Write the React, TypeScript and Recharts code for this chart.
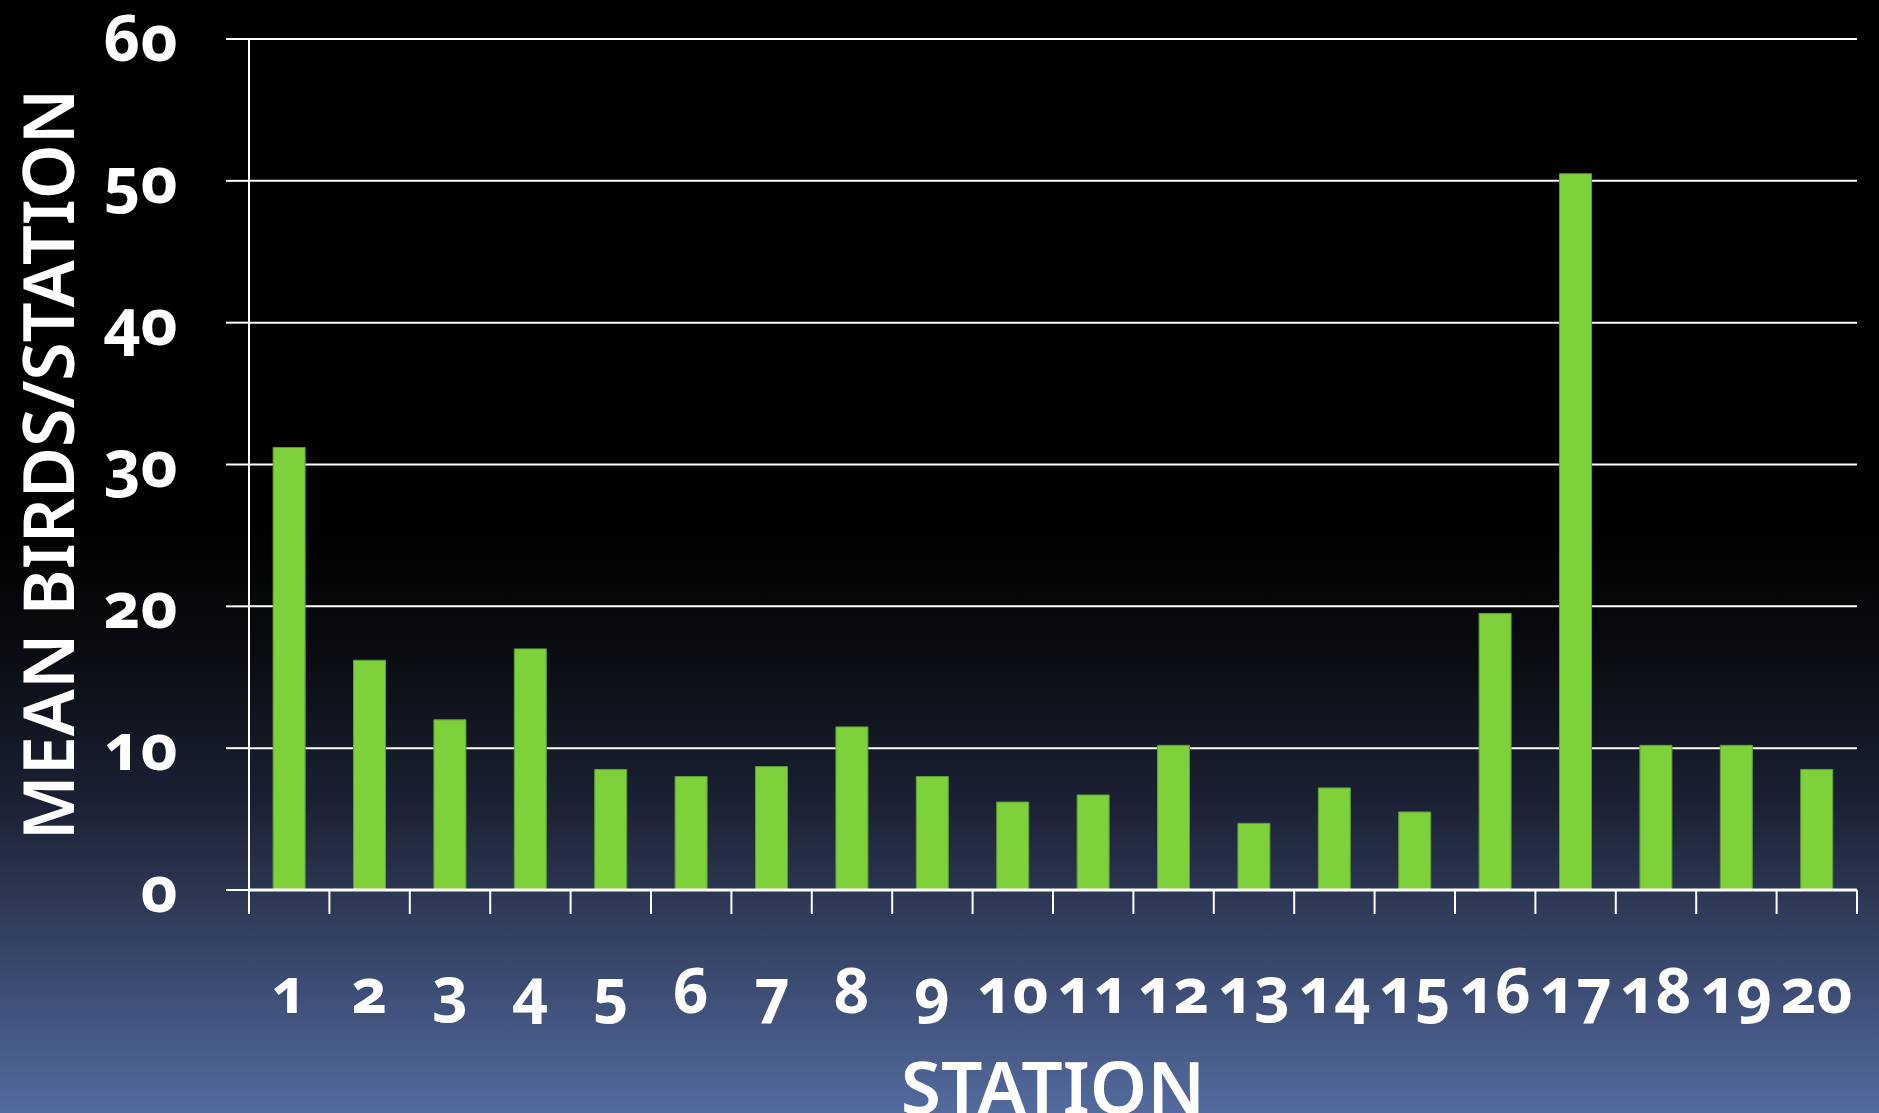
import React from "react";
import { BarChart, Bar, XAxis, YAxis, CartesianGrid, Label } from "recharts";

const stations = ["1", "2", "3", "4", "5", "6", "7", "8", "9", "10", "11", "12", "13", "14", "15", "16", "17", "18", "19", "20"];
const meanBirds = [31.2, 16.2, 12.0, 17.0, 8.5, 8.0, 8.7, 11.5, 8.0, 6.2, 6.7, 10.2, 4.7, 7.2, 5.5, 19.5, 50.5, 10.2, 10.2, 8.5];
const yTicks = [0, 10, 20, 30, 40, 50, 60];

const data = stations.map((s, i) => ({ station: s, mean: meanBirds[i] }));

const W = 1879;
const H = 1113;
const margin = { top: 39, right: 22, left: 0, bottom: 0 };
const Y_AXIS_W = 249;
const BAND = (W - Y_AXIS_W - margin.right) / stations.length;
const TICK_LEN = 24;
const FONT = "'Noto Sans', 'Open Sans', sans-serif";

function StationTick(props: any) {
  const { x, y, payload, index } = props;
  const left = x - BAND / 2;
  const right = x + BAND / 2;
  return (
    <g>
      <line x1={left} x2={left} y1={y - TICK_LEN} y2={y} stroke="#fff" strokeWidth={2} />
      {index === stations.length - 1 && (
        <line x1={right} x2={right} y1={y - TICK_LEN} y2={y} stroke="#fff" strokeWidth={2} />
      )}
      <text
        x={x}
        y={y + 99}
        textAnchor="middle"
        fill="#fff"
        fontFamily={FONT}
        fontWeight={700}
        fontSize={62}
        style={{ fontVariantNumeric: "oldstyle-nums" }}
      >
        {payload.value}
      </text>
    </g>
  );
}

function CountTick(props: any) {
  const { x, y, payload } = props;
  return (
    <text
      x={x}
      y={y + 22}
      textAnchor="end"
      fill="#fff"
      fontFamily={FONT}
      fontWeight={700}
      fontSize={64}
      style={{ fontVariantNumeric: "oldstyle-nums" }}
    >
      {payload.value}
    </text>
  );
}

export default function App() {
  return (
    <div
      style={{
        position: "absolute",
        left: 0,
        top: 0,
        width: W,
        height: H,
        overflow: "hidden",
        background:
          "linear-gradient(to bottom, #000000 0%, #000000 47%, #0b0e14 60%, #1b2133 72%, #2b3651 80%, #3f5079 90%, #546b9e 100%)",
      }}
    >
      <BarChart width={W} height={H} data={data} margin={margin} barCategoryGap="30%">
        <CartesianGrid horizontal vertical={false} stroke="#fff" strokeWidth={2} />
        <XAxis
          dataKey="station"
          height={H - 890}
          axisLine={{ stroke: "#fff", strokeWidth: 3 }}
          tickLine={false}
          tickSize={TICK_LEN}
          tickMargin={0}
          interval={0}
          tick={<StationTick />}
        >
          <Label
            content={(p: any) => {
              const vb = p.viewBox;
              return (
                <text
                  x={vb.x + vb.width / 2}
                  y={1114}
                  textAnchor="middle"
                  fill="#fff"
                  fontFamily={FONT}
                  fontWeight={600}
                  fontSize={73}
                >
                  STATION
                </text>
              );
            }}
          />
        </XAxis>
        <YAxis
          width={Y_AXIS_W}
          domain={[0, 60]}
          ticks={yTicks}
          interval={0}
          axisLine={{ stroke: "#fff", strokeWidth: 2 }}
          tickLine={{ stroke: "#fff", strokeWidth: 2 }}
          tickSize={23}
          tickMargin={48}
          tick={<CountTick />}
        >
          <Label
            content={(p: any) => {
              const vb = p.viewBox;
              const cy = vb.y + vb.height / 2;
              return (
                <text
                  x={74}
                  y={cy}
                  transform={`rotate(-90, 74, ${cy})`}
                  textAnchor="middle"
                  fill="#fff"
                  fontFamily={FONT}
                  fontWeight={600}
                  fontSize={70}
                >
                  MEAN BIRDS/STATION
                </text>
              );
            }}
          />
        </YAxis>
        <Bar dataKey="mean" fill="#7ed13b" stroke="#5f9f38" strokeWidth={1} isAnimationActive={false} />
      </BarChart>
    </div>
  );
}
